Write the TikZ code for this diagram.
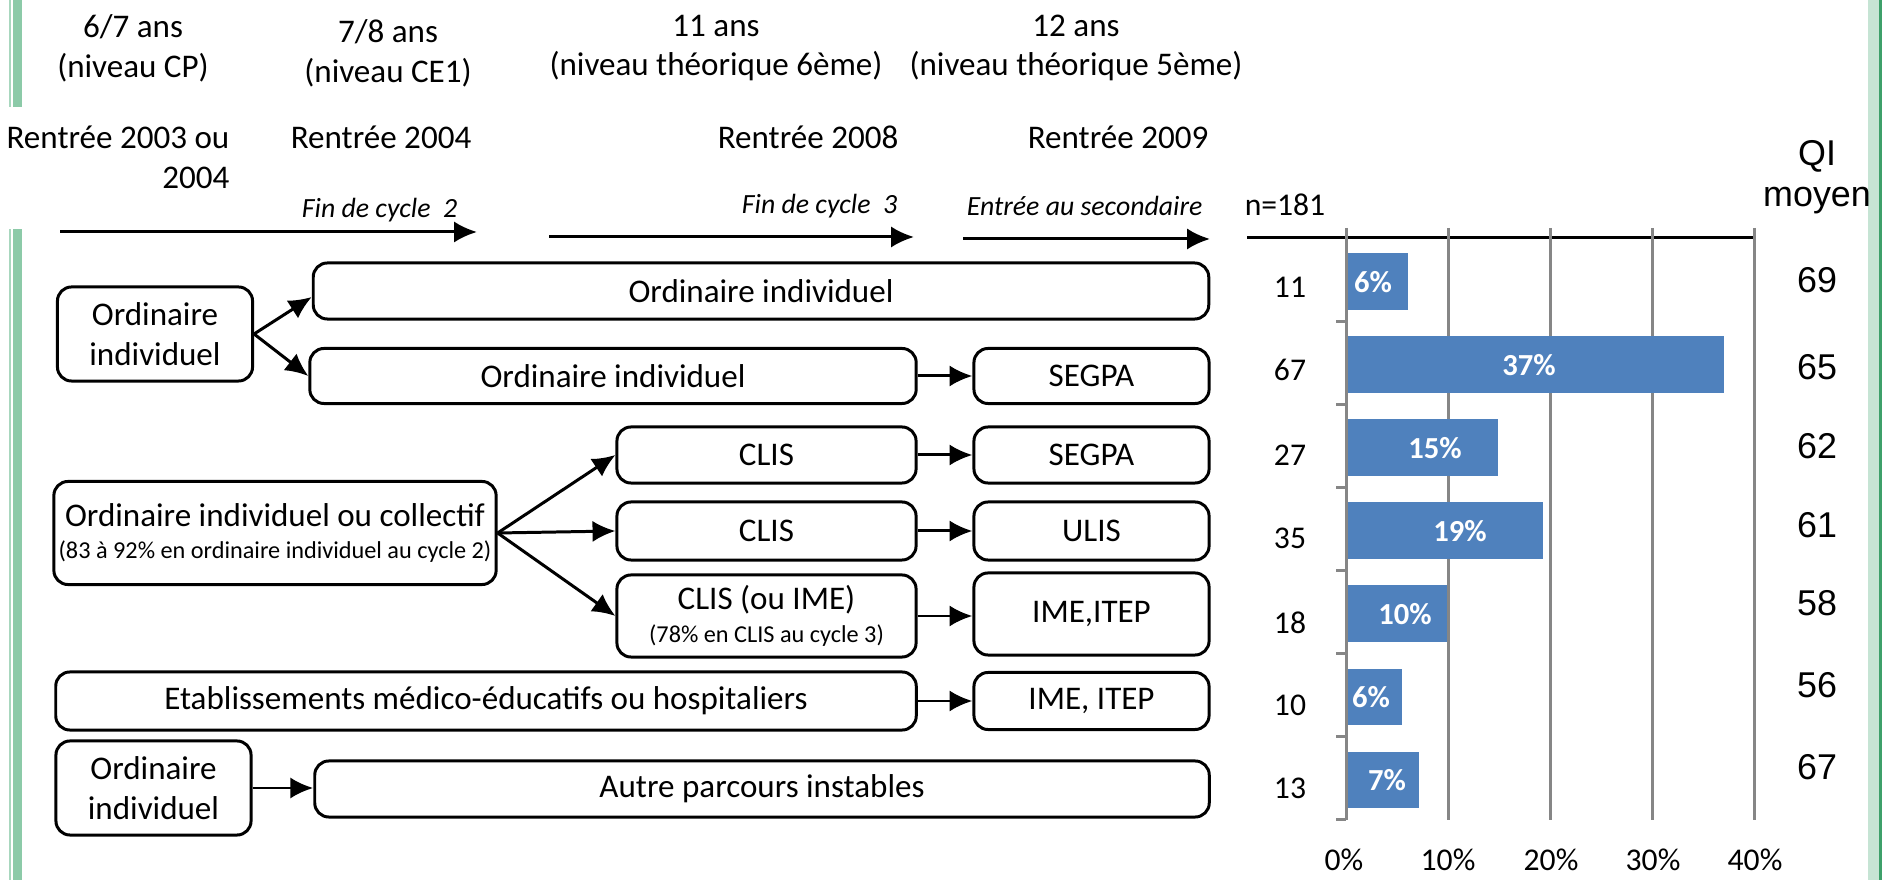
\documentclass[tikz,border=0pt]{standalone}
\usepackage{fontspec}
\setmainfont{Carlito}
\newfontfamily\arialfont{Liberation Sans}
\usetikzlibrary{arrows.meta}
\definecolor{barblue}{HTML}{4F81BD}
\definecolor{gridgray}{HTML}{868686}
\definecolor{bandgreen}{HTML}{8CCAA8}
\definecolor{bandlight}{HTML}{A8D7BE}
\definecolor{bandpale}{HTML}{C6E4D4}
\definecolor{banddark}{HTML}{3DA06A}
\newcommand\petit{\fontsize{6.9}{8.3}\selectfont}

\begin{document}
\begin{tikzpicture}[x=0.01cm, y=-0.01cm, >={Latex[length=6.5pt,width=6pt]},
    parcours/.style={draw, line width=0.85pt, rounded corners=4pt, align=center, inner sep=0pt, font=\fontsize{9.4}{11.3}\selectfont},
    etiquette/.style={align=center, inner sep=0pt, font=\fontsize{9.4}{11.3}\selectfont},
    cyclelab/.style={inner sep=0pt, anchor=east, font=\fontsize{7.9}{9.5}\selectfont\itshape},
    flow/.style={->, line width=0.85pt},
    gridline/.style={gridgray, line width=0.85pt},
    barlab/.style={inner sep=0pt, text=white, font=\fontsize{8.7}{10}\selectfont\bfseries},
    nlab/.style={inner sep=0pt, font=\fontsize{9}{10}\selectfont},
    qilab/.style={inner sep=0pt, align=center, font=\arialfont\fontsize{10.2}{11.7}\selectfont}]
    \useasboundingbox (0,0) rectangle (1882,880);

    % bandes vertes
    \fill[bandlight] (9,0) rectangle (11.3,107);
    \fill[bandgreen] (13.3,0) rectangle (22,107);
    \fill[bandlight] (9,229) rectangle (11.3,880);
    \fill[bandgreen] (13.3,229) rectangle (22,880);
    \fill[bandpale] (1868,0) rectangle (1882,880);
    \fill[banddark] (1879,0) rectangle (1881.5,880);

    % en-tetes
    \node[etiquette] (age1) at (133,48) {6/7 ans\\(niveau CP)};
    \node[etiquette] (age2) at (388,53) {7/8 ans\\(niveau CE1)};
    \node[etiquette] (age3) at (716,48) {11 ans\\(niveau théorique 6ème)};
    \node[etiquette] (age4) at (1076,48) {12 ans\\(niveau théorique 5ème)};
    \node[etiquette, align=right, anchor=east] (ren1) at (230,157) {Rentrée 2003 ou\\2004};
    \node[etiquette] (ren2) at (381,137) {Rentrée 2004};
    \node[etiquette] (ren3) at (808,137) {Rentrée 2008};
    \node[etiquette] (ren4) at (1118,137) {Rentrée 2009};
    \node[cyclelab] (cyc2) at (458,210) {Fin de cycle~~2};
    \node[cyclelab] (cyc3) at (898,206) {Fin de cycle~~3};
    \node[cyclelab] (sec) at (1203,206) {Entrée au secondaire};

    \coordinate (t1a) at (60,232);
    \coordinate (t1b) at (477,232);
    \coordinate (t2a) at (549,237);
    \coordinate (t2b) at (914,237);
    \coordinate (t3a) at (963,239);
    \coordinate (t3b) at (1210,239);
    \draw[flow] (t1a) -- (t1b);
    \draw[flow] (t2a) -- (t2b);
    \draw[flow] (t3a) -- (t3b);

    % parcours
    \node[parcours, minimum width=1.95cm, minimum height=0.94cm] (ord1) at (155,334) {Ordinaire\\individuel};
    \node[parcours, minimum width=8.95cm, minimum height=0.56cm] (ord1a) at (761,291) {Ordinaire individuel};
    \node[parcours, minimum width=6.06cm, minimum height=0.55cm] (ord1b) at (613,376) {Ordinaire individuel};
    \node[parcours, minimum width=2.35cm, minimum height=0.55cm] (segpa1) at (1091.5,376) {SEGPA};

    \node[parcours, minimum width=4.42cm, minimum height=1.03cm] (ordcol) at (275,533)
        {Ordinaire individuel ou collectif\\[-2pt]{\petit (83 à 92\% en ordinaire individuel au cycle 2)}};
    \node[parcours, minimum width=2.99cm, minimum height=0.56cm] (clis1) at (766.5,455) {CLIS};
    \node[parcours, minimum width=2.35cm, minimum height=0.56cm] (segpa2) at (1091.5,455) {SEGPA};
    \node[parcours, minimum width=2.99cm, minimum height=0.58cm] (clis2) at (766.5,531) {CLIS};
    \node[parcours, minimum width=2.35cm, minimum height=0.58cm] (ulis) at (1091.5,531) {ULIS};
    \node[parcours, minimum width=2.99cm, minimum height=0.82cm] (clis3) at (766.5,616)
        {CLIS (ou IME)\\[-2pt]{\petit (78\% en CLIS au cycle 3)}};
    \node[parcours, minimum width=2.35cm, minimum height=0.82cm] (ime1) at (1091.5,614) {IME,ITEP};

    \node[parcours, minimum width=8.60cm, minimum height=0.58cm] (etab) at (486,701) {Etablissements médico-éducatifs ou hospitaliers};
    \node[parcours, minimum width=2.35cm, minimum height=0.57cm] (ime2) at (1091.5,701) {IME, ITEP};

    \node[parcours, minimum width=1.95cm, minimum height=0.94cm] (ord2) at (153.5,788) {Ordinaire\\individuel};
    \node[parcours, minimum width=8.94cm, minimum height=0.56cm] (autre) at (762,789) {Autre parcours instables};

    \draw[flow] (ord1.east) -- ([yshift=-0.06cm]ord1a.west);
    \draw[flow] (ord1.east) -- (ord1b.west);
    \draw[flow] (ord1b) -- (segpa1);
    \draw[flow] (ordcol.east) -- (clis1.west);
    \draw[flow] (ordcol.east) -- (clis2.west);
    \draw[flow] (ordcol.east) -- (clis3.west);
    \draw[flow] (clis1) -- (segpa2);
    \draw[flow] (clis2) -- (ulis);
    \draw[flow] (clis3.east) -- (ime1.west |- clis3.east);
    \draw[flow] (etab) -- (ime2);
    \draw[flow] (ord2.east) -- (autre.west |- ord2.east);

    % graphique
    \node[nlab] (ntot) at (1285,205) {n=181};
    \node[qilab] (qi) at (1817,177) {QI\\moyen};
    \draw[line width=0.85pt] (1247,238) -- (1755,238);
    \draw[gridline] (1448,228) -- (1448,820);
    \draw[gridline] (1550,228) -- (1550,820);
    \draw[gridline] (1652,228) -- (1652,820);
    \draw[gridline] (1754,228) -- (1754,820);
    \draw[gridline] (1346,228) -- (1346,820);
    \draw[gridline] (1336,321.1) -- (1346,321.1);
    \draw[gridline] (1336,404.2) -- (1346,404.2);
    \draw[gridline] (1336,487.3) -- (1346,487.3);
    \draw[gridline] (1336,570.4) -- (1346,570.4);
    \draw[gridline] (1336,653.5) -- (1346,653.5);
    \draw[gridline] (1336,736.6) -- (1346,736.6);
    \draw[gridline] (1336,819.7) -- (1346,819.7);

    \fill[barblue] (1347.5,253) rectangle (1408,310);
    \fill[barblue] (1347.5,336) rectangle (1723.6,393);
    \fill[barblue] (1347.5,419) rectangle (1498.2,476);
    \fill[barblue] (1347.5,502) rectangle (1543.2,559);
    \fill[barblue] (1347.5,585) rectangle (1447.4,642);
    \fill[barblue] (1347.5,669) rectangle (1402.4,725);
    \fill[barblue] (1347.5,752) rectangle (1419.3,808);

    \node[barlab] (p1) at (1373,282) {6\%};
    \node[barlab] (p2) at (1529,365) {37\%};
    \node[barlab] (p3) at (1435,448) {15\%};
    \node[barlab] (p4) at (1460,531) {19\%};
    \node[barlab] (p5) at (1405,614) {10\%};
    \node[barlab] (p6) at (1371,697) {6\%};
    \node[barlab] (p7) at (1387,780) {7\%};

    \node[nlab] (n1) at (1290,287) {11};
    \node[nlab] (n2) at (1290,370) {67};
    \node[nlab] (n3) at (1290,455) {27};
    \node[nlab] (n4) at (1290,538) {35};
    \node[nlab] (n5) at (1290,623) {18};
    \node[nlab] (n6) at (1290,705) {10};
    \node[nlab] (n7) at (1290,788) {13};

    \node[qilab] (q1) at (1817,280) {69};
    \node[qilab] (q2) at (1817,367) {65};
    \node[qilab] (q3) at (1817,446) {62};
    \node[qilab] (q4) at (1817,525) {61};
    \node[qilab] (q5) at (1817,603) {58};
    \node[qilab] (q6) at (1817,685) {56};
    \node[qilab] (q7) at (1817,767) {67};

    \node[nlab] (x0) at (1344,860) {0\%};
    \node[nlab] (x1) at (1448,860) {10\%};
    \node[nlab] (x2) at (1551,860) {20\%};
    \node[nlab] (x3) at (1653,860) {30\%};
    \node[nlab] (x4) at (1755,860) {40\%};
\end{tikzpicture}
\end{document}
